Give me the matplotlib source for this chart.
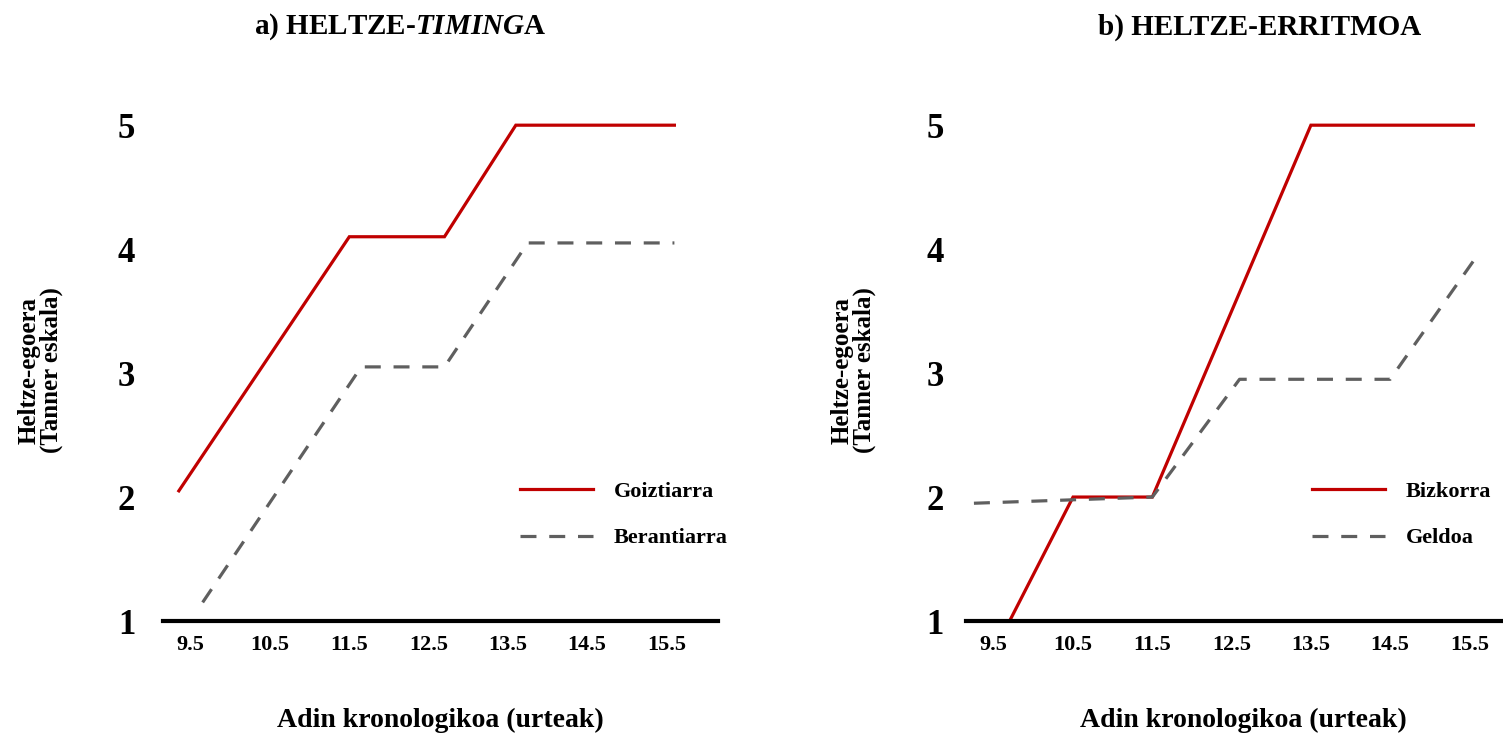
import matplotlib
matplotlib.use("Agg")
import matplotlib.pyplot as plt

plt.rcParams['font.family'] = ['Liberation Serif', 'DejaVu Serif']
plt.rcParams['font.weight'] = 'bold'
plt.rcParams['mathtext.fontset'] = 'custom'
plt.rcParams['mathtext.rm'] = 'Liberation Serif:bold'
plt.rcParams['mathtext.it'] = 'Liberation Serif:italic:bold'

# ---- data ----
age_ticks = [9.5, 10.5, 11.5, 12.5, 13.5, 14.5, 15.5]
stage_ticks = [1, 2, 3, 4, 5]

a_early_x = [9.35, 11.5, 12.7, 13.6, 15.6]
a_early_y = [2.05, 4.1, 4.1, 5.0, 5.0]
a_late_x = [9.65, 11.65, 12.7, 13.75, 15.6]
a_late_y = [1.15, 3.05, 3.05, 4.05, 4.05]

b_fast_x = [9.7, 10.5, 11.5, 13.5, 15.55]
b_fast_y = [1.0, 2.0, 2.0, 5.0, 5.0]
b_slow_x = [9.25, 11.5, 12.6, 14.5, 15.6]
b_slow_y = [1.95, 2.0, 2.95, 2.95, 3.95]

labels_a = ["Goiztiarra", "Berantiarra"]
labels_b = ["Bizkorra", "Geldoa"]
title_a = r"a) HELTZE-$\mathit{TIMING}$A"
title_b = "b) HELTZE-ERRITMOA"
xlabel = "Adin kronologikoa (urteak)"
ylabel = "Heltze-egoera\n(Tanner eskala)"

RED = "#C00000"
GRAY = "#5F5F5F"

W, H = 1503, 734
fig = plt.figure(figsize=(W / 100, H / 100), dpi=100)

def px_axes(left, right, bottom, top):
    return fig.add_axes([left / W, 1 - bottom / H, (right - left) / W, (bottom - top) / H])

ax_a = px_axes(163, 718, 621, 88)
ax_b = px_axes(966, 1521, 621, 88)

def style(ax, ypad, ylab_x):
    ax.set_xlim(9.15, 16.15)
    ax.set_ylim(1, 5.3)
    for s in ['top', 'right', 'left']:
        ax.spines[s].set_visible(False)
    ax.spines['bottom'].set_linewidth(3.0)
    ax.spines['bottom'].set_color('black')
    ax.set_xticks(age_ticks)
    ax.set_xticklabels([str(t) for t in age_ticks], fontsize=16, fontweight='bold')
    ax.set_yticks(stage_ticks)
    ax.set_yticklabels([str(t) for t in stage_ticks], fontsize=25, fontweight='bold')
    ax.tick_params(axis='x', length=0, pad=10)
    ax.tick_params(axis='y', length=0, pad=ypad)
    ax.set_xlabel(xlabel, fontsize=20, fontweight='bold')
    ax.xaxis.label.set_va('center')
    ax.xaxis.set_label_coords(0.5, (621 - 720) / 533)
    ax.set_ylabel(ylabel, fontsize=18, fontweight='bold', linespacing=0.95)
    ax.yaxis.label.set_va('center')
    ax.yaxis.set_label_coords(ylab_x, 0.47)
    ax.patch.set_alpha(0)

lw = 2.3
dash = (0, (5, 4))

ax_a.plot(a_early_x, a_early_y, color=RED, lw=lw, label=labels_a[0], solid_joinstyle='miter')
ax_a.plot(a_late_x, a_late_y, color=GRAY, lw=lw, ls=dash, label=labels_a[1])
ax_b.plot(b_fast_x, b_fast_y, color=RED, lw=lw, label=labels_b[0], solid_joinstyle='miter')
ax_b.plot(b_slow_x, b_slow_y, color=GRAY, lw=lw, ls=dash, label=labels_b[1])

style(ax_a, 20, (40 - 163) / 555)
style(ax_b, 16, (853 - 966) / 555)

for ax, anchor in ((ax_a, (509 / W, 1 - 515 / H)), (ax_b, (1301 / W, 1 - 515 / H))):
    ax.legend(loc='center left', bbox_to_anchor=anchor, bbox_transform=fig.transFigure,
              frameon=False, prop={'family': 'Liberation Serif', 'weight': 'bold', 'size': 16},
              handlelength=3.3, handletextpad=0.9, labelspacing=1.15, borderpad=0)

fig.text(400 / W, 1 - 27 / H, title_a, ha='center', va='center', fontsize=21, fontweight='bold')
fig.text(1260 / W, 1 - 27 / H, title_b, ha='center', va='center', fontsize=21, fontweight='bold')

fig.savefig("out.png", dpi=100)
